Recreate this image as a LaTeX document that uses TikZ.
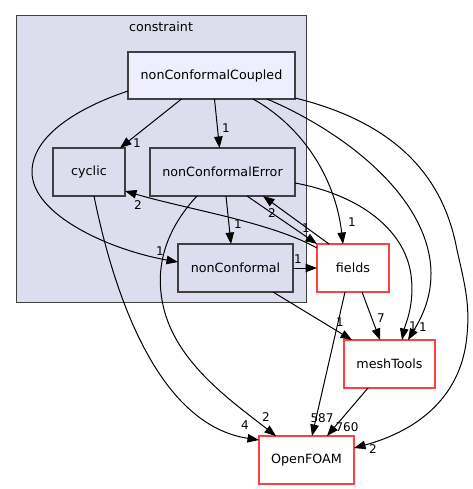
\documentclass[tikz,border=0pt]{standalone}
\usepackage{fontspec}
\setmainfont{DejaVu Sans}
\usetikzlibrary{arrows.meta,calc}
\definecolor{clfill}{HTML}{DDDDEE}
\definecolor{topfill}{HTML}{EEEEFF}
\definecolor{boxline}{HTML}{404040}
\definecolor{extred}{HTML}{FF4040}
\tikzset{
  inbox/.style={draw=boxline, line width=1.5pt, fill=clfill, inner sep=0pt, outer sep=0pt, font=\fontsize{12.7}{15}\selectfont},
  extbox/.style={draw=extred, line width=1.5pt, fill=white, inner sep=0pt, outer sep=0pt, font=\fontsize{12.7}{15}\selectfont},
  edge/.style={draw=black, line width=1pt, -{Triangle[length=11.5pt,width=8.5pt]}},
  lbl/.style={inner sep=0pt, font=\fontsize{12}{14}\selectfont}
}
\begin{document}
\begin{tikzpicture}[x=1pt,y=-1pt]
\useasboundingbox (0,0) rectangle (472,489);
% cluster
\node[draw=boxline, line width=1pt, fill=clfill, minimum width=290pt, minimum height=286pt, inner sep=0pt, outer sep=0pt] (cl) at (161,159) {};
\node[inner sep=0pt, font=\fontsize{12.7}{15}\selectfont] (cllbl) at (161,27) {constraint};
% nodes
\node[inbox, fill=topfill, minimum width=167pt, minimum height=47pt] (ncc) at (211.5,75.5) {nonConformalCoupled};
\node[inbox, minimum width=72pt, minimum height=48pt] (cyc) at (89,172) {cyclic};
\node[inbox, minimum width=145pt, minimum height=48pt] (nce) at (222.5,172) {nonConformalError};
\node[inbox, minimum width=115pt, minimum height=48pt] (nc) at (235.5,268) {nonConformal};
\node[extbox, minimum width=72pt, minimum height=48pt] (fields) at (353,268) {fields};
\node[extbox, minimum width=91pt, minimum height=48pt] (mesh) at (389.5,364) {meshTools};
\node[extbox, minimum width=95pt, minimum height=48pt] (of) at (306.5,460) {OpenFOAM};
% edges
\draw[edge] ($(ncc.south)+(-30,0)$) -- ($(cyc.north)+(31,0)$)
  node[lbl] (e1) at (137,143) {1};
\draw[edge] ($(ncc.south)+(3,0)$) -- ($(nce.north)+(-3,0)$)
  node[lbl] (e2) at (226,128) {1};
\draw[edge] ($(ncc.west)+(0,15.5)$) .. controls (80,107) and (32,135) .. (32,172)
  .. controls (32,215) and (110,250) .. ($(nc.west)+(0,-6)$)
  node[lbl] (e3) at (160,251) {1};
\draw[edge] ($(ncc.south)+(41.5,0)$) .. controls (300,125) and (335,175) .. ($(fields.north)+(-10,0)$)
  node[lbl] (e4) at (352,222) {1};
\draw[edge] ($(ncc.south)+(55.5,0)$) .. controls (340,130) and (420,190) .. (430,260)
  .. controls (435,295) and (420,320) .. ($(mesh.north)+(18.5,0)$)
  node[lbl] (e5) at (423,327) {1};
\draw[edge] ($(ncc.east)+(0,22.5)$) .. controls (405,125) and (445,185) .. (457,250)
  .. controls (465,285) and (470,305) .. (467,335)
  .. controls (462,395) and (420,430) .. ($(of.north east)+(0,12)$)
  node[lbl] (e6) at (373,449) {2};
\draw[edge] ($(nce.south)+(3.5,0)$) -- ($(nc.north)+(-4.5,0)$)
  node[lbl] (e7) at (238,224) {1};
\draw[edge] ($(nce.south)+(24.5,0)$) -- (fields.north west)
  node[lbl] (e8) at (306,228) {1};
\draw[edge] ($(fields.north)+(-24,0)$) -- ($(nce.south)+(40.5,0)$)
  node[lbl] (e9) at (272,213) {2};
\draw[edge] ($(fields.north west)+(0,4)$) .. controls (270,222) and (190,210) .. ($(cyc.south east)+(0,-5)$)
  node[lbl] (e10) at (138,205) {2};
\draw[edge] ($(nce.east)+(0,11)$) .. controls (360,195) and (405,230) .. (411,275)
  .. controls (415,305) and (405,325) .. ($(mesh.north)+(12.5,0)$)
  node[lbl] (e11) at (413,326) {1};
\draw[edge] ($(cyc.south)+(5,0)$) .. controls (115,300) and (160,425) .. ($(of.north west)+(0,4)$)
  node[lbl] (e12) at (245,425) {4};
\draw[edge] ($(nce.south)+(-25.5,0)$) .. controls (170,225) and (155,260) .. (162,300)
  .. controls (172,360) and (230,400) .. ($(of.north west)+(17,0)$)
  node[lbl] (e13) at (266,417) {2};
\draw[edge] (nc.east) -- (fields.west)
  node[lbl] (e14) at (298,259) {1};
\draw[edge] ($(nc.south)+(37.5,0)$) -- ($(mesh.north west)+(8,0)$)
  node[lbl] (e15) at (340,322) {1};
\draw[edge] ($(fields.south)+(9,0)$) -- ($(mesh.north)+(-9.5,0)$)
  node[lbl] (e16) at (381,318) {7};
\draw[edge] ($(fields.south)+(-8,0)$) -- ($(of.north)+(5.5,0)$)
  node[lbl] (e17) at (322,418) {587};
\draw[edge] ($(mesh.south)+(-21.5,0)$) -- ($(of.north)+(20.5,0)$)
  node[lbl] (e18) at (347,427) {760};
\end{tikzpicture}
\end{document}
